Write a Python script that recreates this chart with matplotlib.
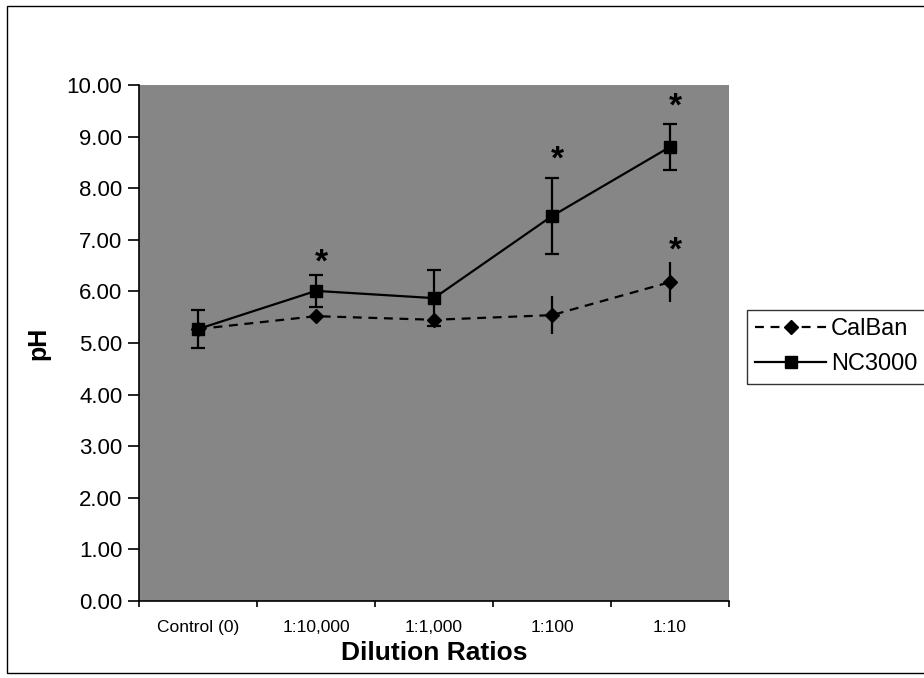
import numpy as np
import matplotlib.pyplot as plt
from matplotlib.patches import Rectangle
from matplotlib.lines import Line2D

plt.rcParams['font.family'] = ['Liberation Sans', 'DejaVu Sans']

categories = ["Control (0)", "1:10,000", "1:1,000", "1:100", "1:10"]
calban = [5.27, 5.52, 5.45, 5.54, 6.18]
calban_err = [0.05, 0.10, 0.12, 0.37, 0.39]
nc3000 = [5.27, 6.01, 5.87, 7.46, 8.80]
nc3000_err = [0.37, 0.31, 0.54, 0.73, 0.45]

# significance stars (category index, height)
star_x = [1, 3, 4, 4]
star_y = [6.55, 8.55, 9.58, 6.78]

x = np.arange(len(categories))

fig = plt.figure(figsize=(9.24, 6.78), dpi=100)
ax = fig.add_axes([139/924, 1 - 601/678, (729 - 139)/924, (601 - 85)/678])
ax.set_facecolor('#868686')

cal_style = dict(color='black', linestyle=(0, (4, 3)), linewidth=1.6,
                 marker='D', markersize=7)
nc_style = dict(color='black', linestyle='-', linewidth=1.6,
                marker='s', markersize=8)

ax.errorbar(x, calban, yerr=calban_err, capsize=0, elinewidth=1.6, **cal_style)
ax.errorbar(x, nc3000, yerr=nc3000_err, capsize=5, capthick=1.6,
            elinewidth=1.6, **nc_style)

for sx, sy in zip(star_x, star_y):
    ax.text(sx + 0.05, sy, '*', fontsize=24, fontweight='bold', ha='center',
            va='center')

ax.set_xlim(-0.5, len(categories) - 0.5)
ax.set_ylim(0, 10)
ax.set_yticks(np.arange(0, 11, 1))
ax.set_yticklabels(['%.2f' % v for v in np.arange(0, 11, 1)], fontsize=16)
ax.tick_params(axis='y', direction='out', length=8, width=1.2, pad=4)

ax.set_xticks(np.arange(-0.5, len(categories)))
ax.set_xticklabels([])
ax.tick_params(axis='x', which='major', direction='out', length=4, width=1.2)
ax.set_xticks(x, minor=True)
ax.set_xticklabels(categories, minor=True, fontsize=12.5)
ax.tick_params(axis='x', which='minor', length=0, pad=14)

for side in ['top', 'right']:
    ax.spines[side].set_visible(False)
ax.spines['left'].set_linewidth(1.2)
ax.spines['bottom'].set_linewidth(1.2)

ax.set_xlabel('Dilution Ratios', fontsize=19, fontweight='bold', labelpad=4)
ax.set_ylabel('pH', fontsize=18, fontweight='bold', labelpad=12)

handles = [Line2D([], [], **cal_style), Line2D([], [], **nc_style)]
leg = fig.legend(handles, ['CalBan', 'NC3000'], loc='upper left',
                 bbox_to_anchor=(747/924, 1 - 310/678),
                 fontsize=17, frameon=True, fancybox=False, handlelength=3.0,
                 borderpad=0.35, labelspacing=0.55, handletextpad=0.2,
                 borderaxespad=0)
leg.get_frame().set_edgecolor('black')
leg.get_frame().set_linewidth(1.0)

fig.patches.append(Rectangle((7/924, 5/678), 1.0, 1 - 11/678, transform=fig.transFigure,
                             fill=False, edgecolor='black', linewidth=1.0))

fig.savefig('out.png', dpi=100)
